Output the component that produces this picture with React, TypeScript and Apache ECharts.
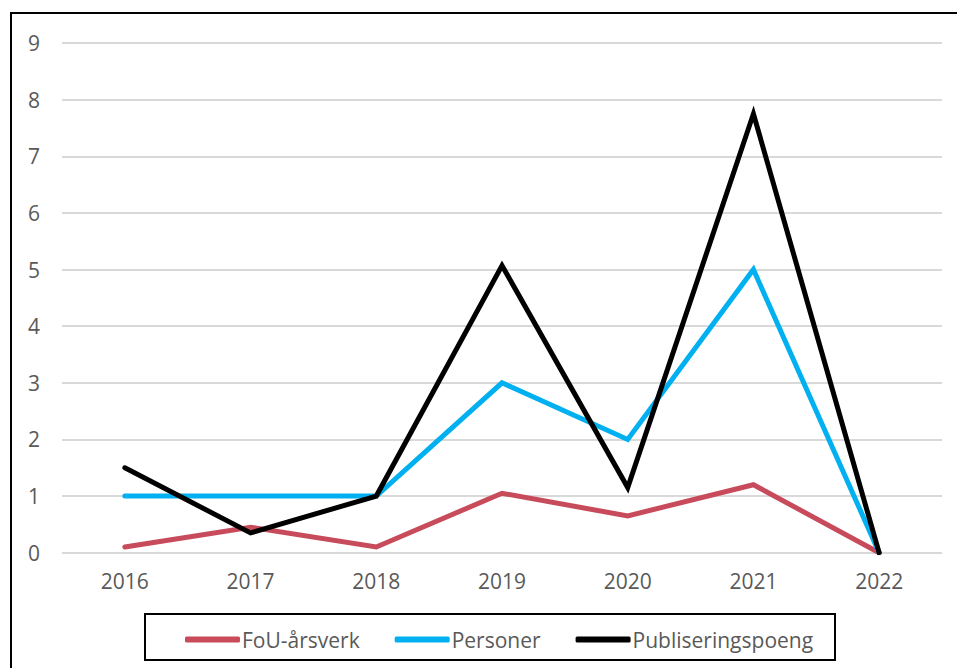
import React, { useEffect, useRef } from "react";
import * as echarts from "echarts";

const years = ["2016", "2017", "2018", "2019", "2020", "2021", "2022"];
const fouArsverk = [0.1, 0.45, 0.1, 1.05, 0.65, 1.2, 0];
const personer = [1, 1, 1, 3, 2, 5, 0];
const publiseringspoeng = [1.5, 0.35, 1, 5.07, 1.15, 7.75, 0];
const seriesNames = ["FoU-årsverk", "Personer", "Publiseringspoeng"];
const colors = ["#C84B5B", "#00B0F0", "#000000"];

export default function App() {
  const ref = useRef<HTMLDivElement>(null);
  useEffect(() => {
    const chart = echarts.init(ref.current!, null, { renderer: "svg" });
    const font = "'Open Sans', 'Noto Sans', sans-serif";
    const data = [fouArsverk, personer, publiseringspoeng];
    chart.setOption({
      animation: false,
      backgroundColor: "#ffffff",
      textStyle: { fontFamily: font },
      grid: { left: 62, right: 15, top: 43, bottom: 115.3, containLabel: false },
      xAxis: {
        type: "category",
        data: years,
        boundaryGap: true,
        axisLine: { show: false },
        axisTick: { show: false },
        axisLabel: { color: "#595959", fontSize: 21, fontFamily: font, margin: 18 },
      },
      yAxis: {
        type: "value",
        min: 0,
        max: 9,
        interval: 1,
        axisLine: { show: false },
        axisTick: { show: false },
        splitLine: { lineStyle: { color: "#D9D9D9", width: 2 } },
        axisLabel: { color: "#595959", fontSize: 21, fontFamily: font, margin: 22 },
      },
      legend: {
        show: true,
        left: 180,
        top: 624,
        itemWidth: 55,
        itemHeight: 6,
        itemGap: 35,
        icon: "roundRect",
        textStyle: { color: "#595959", fontSize: 21, fontFamily: font, padding: [0, 0, 0, -3] },
        data: seriesNames,
      },
      graphic: [
        {
          type: "rect",
          shape: { x: 11, y: 13, width: 960, height: 700 },
          style: { fill: "none", stroke: "#000", lineWidth: 2 },
          silent: true,
        },
        {
          type: "rect",
          shape: { x: 145, y: 614, width: 690, height: 46 },
          style: { fill: "none", stroke: "#000", lineWidth: 2 },
          silent: true,
        },
      ],
      series: seriesNames.map((name, i) => ({
        name,
        type: "line",
        data: data[i],
        symbol: "none",
        color: colors[i],
        lineStyle: { color: colors[i], width: 5, cap: "round", join: "miter" },
        z: 2 + i,
      })),
    });
    return () => chart.dispose();
  }, []);
  return (
    <div
      ref={ref}
      style={{ position: "fixed", left: 0, top: 0, width: 957, height: 668 }}
    />
  );
}
